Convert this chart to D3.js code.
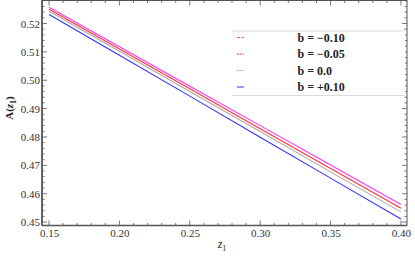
<!DOCTYPE html>
<html><head><meta charset="utf-8">
<script src="https://cdn.jsdelivr.net/npm/d3@7"></script>
<style>body{margin:0;background:#fff;} svg text{font-family:"Liberation Serif","DejaVu Serif",serif;}</style>
</head><body>
<svg id="c" width="415" height="260"></svg>
<script>
const zValues = [0.15, 0.20, 0.25, 0.30, 0.35, 0.40];
const seriesNames = ["b = \u22120.10", "b = \u22120.05", "b = 0.0", "b = +0.10"];
const aMinus010 = [0.5257, 0.5118, 0.4979, 0.4840, 0.4701, 0.4562];
const aMinus005 = [0.5250, 0.5110, 0.4970, 0.4829, 0.4689, 0.4549];
const aZero     = [0.5243, 0.5102, 0.4960, 0.4819, 0.4677, 0.4536];
const aPlus010  = [0.5232, 0.5088, 0.4944, 0.4799, 0.4655, 0.4511];
const xTicks = [0.15, 0.20, 0.25, 0.30, 0.35, 0.40];
const yTicks = [0.45, 0.46, 0.47, 0.48, 0.49, 0.50, 0.51, 0.52];

const seriesValues = [aMinus010, aMinus005, aZero, aPlus010];
const colors = ["#ff33ff", "#ff3333", "#aaaaaa", "#3333ff"];
const legendDashes = ["3,1.5", "2,1", "1.5,1", null];

const svg = d3.select("#c");
const L = 42, R = 407, T = 0.5, B = 225.5;
const x = d3.scaleLinear().domain([0.145, 0.4043]).range([L, R]);
const y = d3.scaleLinear().domain([0.4488, 0.5281]).range([B, T]);

const axisColor = "#555";
const font = "Liberation Serif";

// minor ticks
const xMinor = d3.range(0.15, 0.4001, 0.01);
const yMinor = d3.range(0.45, 0.5281, 0.002);
const g = svg.append("g");
xMinor.forEach(v => {
  const major = xTicks.some(t => Math.abs(t - v) < 1e-6);
  const len = major ? 5 : 2.5;
  g.append("line").attr("x1", x(v)).attr("x2", x(v)).attr("y1", B).attr("y2", B - len).attr("stroke", axisColor).attr("stroke-width", 0.8);
  g.append("line").attr("x1", x(v)).attr("x2", x(v)).attr("y1", T).attr("y2", T + len).attr("stroke", axisColor).attr("stroke-width", 0.8);
});
yMinor.forEach(v => {
  const major = yTicks.some(t => Math.abs(t - v) < 1e-6);
  const len = major ? 5 : 2.5;
  g.append("line").attr("x1", L).attr("x2", L + len).attr("y1", y(v)).attr("y2", y(v)).attr("stroke", axisColor).attr("stroke-width", 0.8);
  g.append("line").attr("x1", R).attr("x2", R - len).attr("y1", y(v)).attr("y2", y(v)).attr("stroke", axisColor).attr("stroke-width", 0.8);
});

// frame
svg.append("rect").attr("x", L).attr("y", T).attr("width", R - L).attr("height", B - T)
  .attr("fill", "none").attr("stroke", axisColor).attr("stroke-width", 1);
svg.append("line").attr("x1", L).attr("x2", L).attr("y1", T).attr("y2", B).attr("stroke", axisColor).attr("stroke-width", 1.6);
svg.append("line").attr("x1", L).attr("x2", R).attr("y1", B).attr("y2", B).attr("stroke", axisColor).attr("stroke-width", 1.6);

// tick labels via axes
const xAxis = d3.axisBottom(x).tickValues(xTicks).tickFormat(d3.format(".2f")).tickSize(0).tickPadding(4);
svg.append("g").attr("transform", `translate(0,${B})`).call(xAxis)
  .attr("font-family", font).attr("font-size", 11)
  .call(s => s.select(".domain").remove())
  .selectAll("text").attr("fill", "#333");
const yAxis = d3.axisLeft(y).tickValues(yTicks).tickFormat(d3.format(".2f")).tickSize(0).tickPadding(2);
svg.append("g").attr("transform", `translate(${L},0)`).call(yAxis)
  .attr("font-family", font).attr("font-size", 11)
  .call(s => s.select(".domain").remove())
  .selectAll("text").attr("fill", "#333");

// lines
const line = d3.line().x((d, i) => x(zValues[i])).y(d => y(d));
seriesValues.forEach((vals, k) => {
  svg.append("path").datum(vals).attr("d", line).attr("fill", "none")
    .attr("stroke", colors[k]).attr("stroke-width", 1.1);
});

// legend
const lg = svg.append("g");
lg.append("rect").attr("x", 232).attr("y", 31).attr("width", 173).attr("height", 64).attr("fill", "#fff");
lg.append("line").attr("x1", 232).attr("x2", 405).attr("y1", 31).attr("y2", 31).attr("stroke", "#ddd");
lg.append("line").attr("x1", 232).attr("x2", 405).attr("y1", 95.5).attr("y2", 95.5).attr("stroke", "#ddd");
seriesNames.forEach((name, k) => {
  const yy = 37.5 + k * 16.5;
  lg.append("line").attr("x1", 237).attr("x2", 244).attr("y1", yy).attr("y2", yy)
    .attr("stroke", colors[k]).attr("stroke-width", 1).attr("stroke-dasharray", legendDashes[k]);
  lg.append("text").attr("x", 297.5).attr("y", yy + 4).text(name)
    .attr("font-size", 12).attr("font-weight", "bold").attr("fill", "#222");
});

// axis titles
const yl = svg.append("text").attr("transform", "translate(13,108) rotate(-90)")
  .attr("text-anchor", "middle").attr("font-size", 11).attr("font-weight", "bold").attr("fill", "#222");
yl.append("tspan").text("A(");
yl.append("tspan").attr("font-style", "italic").text("z");
yl.append("tspan").attr("font-size", 8).attr("dy", 3).text("1");
yl.append("tspan").attr("dy", -3).text(")");

const xl = svg.append("text").attr("x", 222).attr("y", 248).attr("text-anchor", "middle")
  .attr("font-size", 12).attr("fill", "#222");
xl.append("tspan").attr("font-style", "italic").text("z");
xl.append("tspan").attr("font-size", 8).attr("dy", 3).text("1");
</script>
</body></html>
